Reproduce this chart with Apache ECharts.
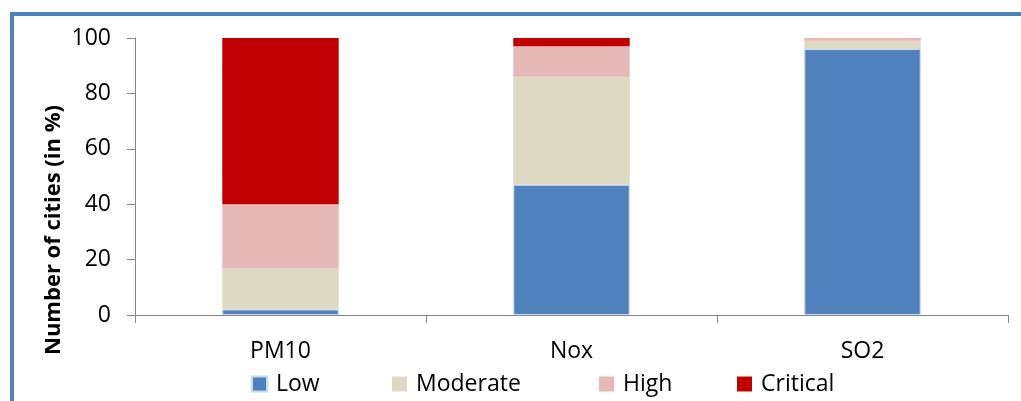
<!DOCTYPE html>
<html>
<head>
<meta charset="utf-8">
<script src="https://cdn.jsdelivr.net/npm/echarts@6/dist/echarts.min.js"></script>
<style>
html,body{margin:0;padding:0;background:#fff;}
#chart{width:1021px;height:401px;}
</style>
</head>
<body>
<div id="chart"></div>
<script>
const categories = ['PM10', 'Nox', 'SO2'];
const lowValues = [2, 47, 96];
const moderateValues = [15, 39, 3];
const highValues = [23, 11, 1];
const criticalValues = [60, 3, 0];
const yTicks = [0, 20, 40, 60, 80, 100];
const seriesNames = ['Low', 'Moderate', 'High', 'Critical'];
const seriesColors = ['#4F81BD', '#DDD9C3', '#E6B9B8', '#C00000'];
const seriesData = [lowValues, moderateValues, highValues, criticalValues];
const yTitle = 'Number of cities (in %)';

const FONT = '"Open Sans", "Liberation Sans", sans-serif';
const chart = echarts.init(document.getElementById('chart'));
const legendLefts = [251, 392, 599, 737];

const option = {
  animation: false,
  backgroundColor: '#fff',
  grid: { left: 135, right: 13, top: 38, height: 277 },
  legend: seriesNames.map((n, i) => ({
    data: [n],
    left: legendLefts[i],
    top: 372,
    padding: 0,
    icon: 'rect',
    itemWidth: 15,
    itemHeight: 15,
    selectedMode: false,
    textStyle: { fontFamily: FONT, fontSize: 23, color: '#000', lineHeight: 24, padding: [0, 0, 0, 4] }
  })),
  xAxis: {
    type: 'category',
    data: categories,
    axisLine: { lineStyle: { color: '#868686', width: 1 } },
    axisTick: { show: true, inside: false, length: 8, lineStyle: { color: '#868686' } },
    axisLabel: { fontFamily: FONT, fontSize: 23, color: '#000', margin: 25 }
  },
  yAxis: {
    type: 'value',
    min: 0,
    max: 100,
    interval: 20,
    splitLine: { show: false },
    axisLine: { show: true, lineStyle: { color: '#868686', width: 1 } },
    axisTick: { show: true, inside: false, length: 8, lineStyle: { color: '#868686' } },
    axisLabel: {
      fontFamily: FONT, fontSize: 23, color: '#000', margin: 24,
      formatter: v => yTicks.includes(v) ? String(v) : ''
    }
  },
  series: seriesNames.map((n, i) => ({
    name: n,
    type: 'bar',
    stack: 'total',
    barCategoryGap: '60%',
    data: seriesData[i],
    itemStyle: {
      color: seriesColors[i],
      borderColor: i === 0 ? '#C6D9F1' : null,
      borderWidth: i === 0 ? 1 : 0
    }
  })),
  graphic: [
    {
      type: 'rect',
      shape: { x: 12, y: 14, width: 1200, height: 600 },
      style: { fill: 'none', stroke: '#4F81BD', lineWidth: 4 },
      silent: true
    },
    {
      type: 'text',
      x: 54,
      y: 230,
      rotation: Math.PI / 2,
      style: {
        text: yTitle,
        fontFamily: FONT,
        fontSize: 22,
        fontWeight: 'bold',
        fill: '#000',
        align: 'center',
        verticalAlign: 'middle'
      },
      silent: true
    }
  ]
};
chart.setOption(option);
</script>
</body>
</html>
